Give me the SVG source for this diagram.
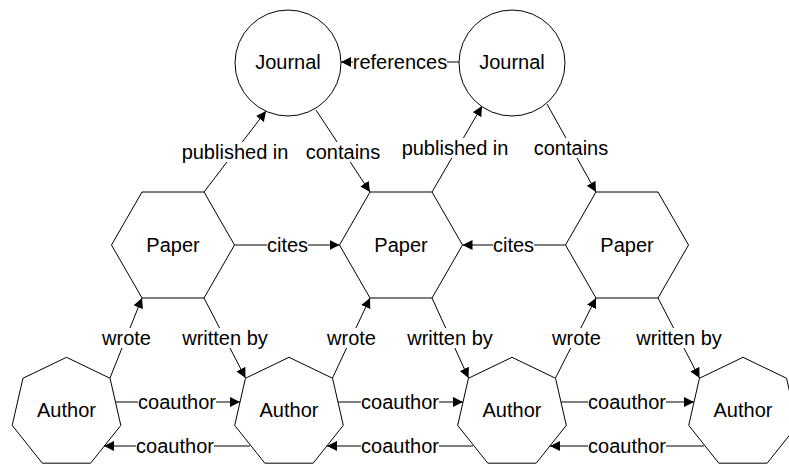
<svg xmlns="http://www.w3.org/2000/svg" width="789" height="466" viewBox="0 0 789 466">
<style>
.node{fill:#fff;stroke:#000;stroke-width:1}
.t{font-family:"Liberation Sans",Arial,sans-serif;font-size:20px;fill:#000;text-anchor:middle}
.e{stroke:#000;stroke-width:1;fill:none;marker-end:url(#ah)}
.bg{fill:#fff;stroke:none}
</style>
<defs>
<marker id="ah" markerUnits="userSpaceOnUse" markerWidth="11" markerHeight="11" refX="10" refY="5" orient="auto">
<path d="M0,0 L10,5 L0,10 z" fill="#000"/>
</marker>
</defs>
<rect width="789" height="466" fill="#fff"/>
<g id="journal1"><circle class="node" cx="288" cy="63" r="53"/><text class="t" x="288" y="69">Journal</text></g>
<g id="journal2"><circle class="node" cx="512" cy="63" r="53"/><text class="t" x="512" y="69">Journal</text></g>
<g id="paper1"><polygon class="node" points="111.5,245 142,192 204,192 234.5,245 204,298 142,298"/><text class="t" x="173" y="252">Paper</text></g>
<g id="paper2"><polygon class="node" points="339.5,245 370,192 432,192 462.5,245 432,298 370,298"/><text class="t" x="401" y="252">Paper</text></g>
<g id="paper3"><polygon class="node" points="565.5,245 596,192 658,192 688.5,245 658,298 596,298"/><text class="t" x="627" y="252">Paper</text></g>
<g id="author1"><polygon class="node" points="66.5,357.3 110.05,378.27 120.8,425.39 90.67,463.18 42.33,463.18 12.2,425.39 22.95,378.27"/><text class="t" x="66.5" y="417">Author</text></g>
<g id="author2"><polygon class="node" points="289,357.3 332.55,378.27 343.3,425.39 313.17,463.18 264.83,463.18 234.7,425.39 245.45,378.27"/><text class="t" x="289" y="417">Author</text></g>
<g id="author3"><polygon class="node" points="512,357.3 555.55,378.27 566.3,425.39 536.17,463.18 487.83,463.18 457.7,425.39 468.45,378.27"/><text class="t" x="512" y="417">Author</text></g>
<g id="author4"><polygon class="node" points="743,357.3 786.55,378.27 797.3,425.39 767.17,463.18 718.83,463.18 688.7,425.39 699.45,378.27"/><text class="t" x="743" y="417">Author</text></g>
<g id="connectors">
<line class="e" x1="459" y1="62" x2="341" y2="62"/>
<line class="e" x1="204" y1="192" x2="266" y2="111"/>
<line class="e" x1="316" y1="110" x2="370" y2="192"/>
<line class="e" x1="432" y1="192" x2="482" y2="106"/>
<line class="e" x1="547" y1="104" x2="596" y2="192"/>
<line class="e" x1="234.5" y1="245" x2="339.5" y2="245"/>
<line class="e" x1="565.5" y1="245" x2="462.5" y2="245"/>
<line class="e" x1="110" y1="378" x2="142" y2="298"/>
<line class="e" x1="204" y1="298" x2="245.5" y2="378"/>
<line class="e" x1="332.5" y1="378" x2="370" y2="298"/>
<line class="e" x1="432" y1="298" x2="468.5" y2="378"/>
<line class="e" x1="555.5" y1="378" x2="596" y2="298"/>
<line class="e" x1="658" y1="298" x2="699.5" y2="378"/>
<line class="e" x1="115.5" y1="402" x2="240" y2="402"/>
<line class="e" x1="338" y1="402" x2="463" y2="402"/>
<line class="e" x1="561" y1="402" x2="694" y2="402"/>
<line class="e" x1="250" y1="446" x2="104" y2="446"/>
<line class="e" x1="473" y1="446" x2="327" y2="446"/>
<line class="e" x1="704" y1="446" x2="550" y2="446"/>
<g id="labels">
<rect class="bg" x="353" y="52" width="94" height="20"/><text class="t" x="400" y="69">references</text>
<rect class="bg" x="182" y="142" width="106" height="20"/><text class="t" x="235" y="159">published in</text>
<rect class="bg" x="306" y="142" width="74" height="20"/><text class="t" x="343" y="159">contains</text>
<rect class="bg" x="402" y="138" width="106" height="20"/><text class="t" x="455" y="155">published in</text>
<rect class="bg" x="534" y="138" width="74" height="20"/><text class="t" x="571" y="155">contains</text>
<rect class="bg" x="267" y="235" width="41" height="20"/><text class="t" x="287.5" y="252">cites</text>
<rect class="bg" x="493" y="235" width="41" height="20"/><text class="t" x="513.5" y="252">cites</text>
<rect class="bg" x="102" y="328" width="49" height="20"/><text class="t" x="126.5" y="345">wrote</text>
<rect class="bg" x="182" y="328" width="86" height="20"/><text class="t" x="225" y="345">written by</text>
<rect class="bg" x="327" y="328" width="49" height="20"/><text class="t" x="351.5" y="345">wrote</text>
<rect class="bg" x="407" y="328" width="86" height="20"/><text class="t" x="450" y="345">written by</text>
<rect class="bg" x="552" y="328" width="49" height="20"/><text class="t" x="576.5" y="345">wrote</text>
<rect class="bg" x="636" y="328" width="86" height="20"/><text class="t" x="679" y="345">written by</text>
<rect class="bg" x="138" y="392" width="78" height="20"/><text class="t" x="177" y="409">coauthor</text>
<rect class="bg" x="361" y="392" width="78" height="20"/><text class="t" x="400" y="409">coauthor</text>
<rect class="bg" x="588" y="392" width="78" height="20"/><text class="t" x="627" y="409">coauthor</text>
<rect class="bg" x="136" y="436" width="78" height="20"/><text class="t" x="175" y="453">coauthor</text>
<rect class="bg" x="361" y="436" width="78" height="20"/><text class="t" x="400" y="453">coauthor</text>
<rect class="bg" x="588" y="436" width="78" height="20"/><text class="t" x="627" y="453">coauthor</text>
</g>
</g>
</svg>
